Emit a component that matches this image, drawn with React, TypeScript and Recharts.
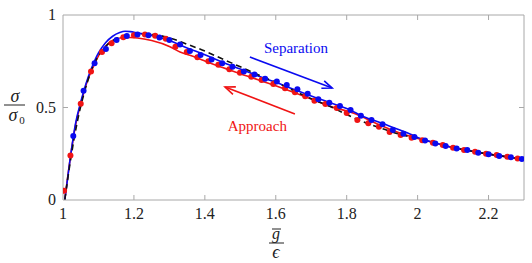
import React from "react";
import {
  LineChart,
  Line,
  XAxis,
  YAxis,
  ReferenceLine,
  ReferenceDot,
} from "recharts";

// normalised traction sigma/sigma0 vs gap g/eps
const separationLine: [number, number][] = [
  [1.005, 0], [1.02, 0.22], [1.035, 0.41], [1.05, 0.53], [1.065, 0.63], [1.08, 0.71],
  [1.1, 0.795], [1.12, 0.85], [1.14, 0.885], [1.16, 0.905], [1.175, 0.912], [1.19, 0.91],
  [1.21, 0.903], [1.25, 0.89], [1.3, 0.862], [1.35, 0.822], [1.4, 0.785], [1.45, 0.745],
  [1.5, 0.708], [1.55, 0.67], [1.6, 0.636], [1.65, 0.598], [1.7, 0.562], [1.75, 0.528],
  [1.8, 0.495], [1.85, 0.449], [1.9, 0.415], [1.95, 0.378], [1.98, 0.355], [2.0, 0.338],
  [2.05, 0.308], [2.1, 0.282], [2.15, 0.265], [2.2, 0.248], [2.25, 0.234], [2.3, 0.22],
];

const approachLine: [number, number][] = [
  [1.005, 0], [1.02, 0.22], [1.035, 0.4], [1.05, 0.52], [1.07, 0.65], [1.09, 0.74],
  [1.105, 0.795], [1.12, 0.83], [1.135, 0.856], [1.15, 0.87], [1.165, 0.877], [1.19, 0.878],
  [1.21, 0.876], [1.25, 0.862], [1.3, 0.83], [1.33, 0.8], [1.36, 0.781], [1.4, 0.752],
  [1.42, 0.737], [1.45, 0.716], [1.5, 0.682], [1.55, 0.65], [1.6, 0.617], [1.65, 0.582],
  [1.7, 0.546], [1.76, 0.502], [1.82, 0.469], [1.84, 0.452], [1.9, 0.4], [1.95, 0.362],
  [2.0, 0.333], [2.05, 0.308], [2.1, 0.283], [2.15, 0.265], [2.2, 0.248], [2.25, 0.234],
  [2.3, 0.22],
];

const modelLine: [number, number][] = [
  [1.005, 0], [1.02, 0.2], [1.04, 0.42], [1.06, 0.58], [1.08, 0.7], [1.1, 0.78],
  [1.12, 0.83], [1.15, 0.872], [1.2, 0.897], [1.25, 0.895], [1.3, 0.876], [1.35, 0.842],
  [1.4, 0.805], [1.45, 0.762], [1.5, 0.72], [1.55, 0.677], [1.6, 0.636], [1.65, 0.592],
  [1.7, 0.547], [1.75, 0.508], [1.8, 0.462], [1.85, 0.42], [1.9, 0.386], [1.95, 0.355],
  [2.0, 0.333], [2.05, 0.307], [2.1, 0.283], [2.15, 0.265], [2.2, 0.248], [2.25, 0.234],
  [2.3, 0.218],
];

const separationDots: [number, number][] = [
  [1.029, 0.346], [1.058, 0.59], [1.089, 0.739], [1.121, 0.816], [1.151, 0.865], [1.18, 0.886],
  [1.21, 0.895], [1.241, 0.89], [1.272, 0.879], [1.3, 0.865], [1.33, 0.84], [1.358, 0.805],
  [1.388, 0.784], [1.419, 0.76], [1.449, 0.739], [1.478, 0.72], [1.51, 0.694], [1.54, 0.679],
  [1.57, 0.656], [1.603, 0.64], [1.631, 0.622], [1.661, 0.598], [1.69, 0.575], [1.72, 0.544],
  [1.751, 0.526], [1.781, 0.508], [1.811, 0.486], [1.84, 0.456], [1.87, 0.432], [1.901, 0.41],
  [1.93, 0.378], [1.96, 0.358], [1.991, 0.34], [2.021, 0.321], [2.05, 0.305], [2.079, 0.292],
  [2.11, 0.278], [2.14, 0.27], [2.171, 0.256], [2.2, 0.247], [2.23, 0.238], [2.263, 0.231],
  [2.294, 0.222],
];

const approachDots: [number, number][] = [
  [1.003, 0.05], [1.021, 0.24], [1.05, 0.52], [1.079, 0.694], [1.11, 0.8], [1.137, 0.847],
  [1.17, 0.88], [1.2, 0.89], [1.231, 0.895], [1.26, 0.888], [1.29, 0.872], [1.317, 0.829],
  [1.349, 0.8], [1.379, 0.772], [1.41, 0.75], [1.438, 0.731], [1.469, 0.707], [1.499, 0.688],
  [1.531, 0.666], [1.56, 0.648], [1.593, 0.627], [1.626, 0.604], [1.654, 0.582], [1.683, 0.561],
  [1.709, 0.536], [1.74, 0.519], [1.772, 0.497], [1.8, 0.47], [1.83, 0.432], [1.861, 0.415],
  [1.891, 0.396], [1.921, 0.368], [1.952, 0.351], [1.983, 0.336], [2.013, 0.323], [2.043, 0.31],
  [2.071, 0.297], [2.1, 0.283], [2.131, 0.27], [2.162, 0.261], [2.193, 0.25], [2.223, 0.243],
  [2.253, 0.234], [2.282, 0.224],
];

const xTicks = [1, 1.2, 1.4, 1.6, 1.8, 2, 2.2];
const yTicks = [0, 0.5, 1];

// arrows [x1, y1, x2, y2] in data units
const separationArrow = [1.527, 0.773, 1.759, 0.605];
const approachArrow = [1.654, 0.465, 1.457, 0.611];

const BLUE = "#0a0af0";
const RED = "#f01414";
const FRAME = "#a8a8a8";
const FONT = '"Times New Roman", "Liberation Serif", "DejaVu Serif", Times, serif';
const serif = { fontFamily: FONT };

const toRows = (pts: [number, number][]) => pts.map(([x, y]) => ({ x, y }));

const BottomTick = (props: any) => {
  const { x, y, payload } = props;
  const v = payload.value as number;
  return (
    <g>
      {v > 1 && <line x1={x} y1={y} x2={x} y2={y - 5} stroke={FRAME} />}
      <text x={x} y={y + 19} textAnchor="middle" fontSize={16} fill="#222" style={serif}>
        {String(Math.round(v * 10) / 10)}
      </text>
    </g>
  );
};

const TopTick = (props: any) => {
  const { x, y, payload } = props;
  if (payload.value <= 1) return <g />;
  return <line x1={x} y1={y} x2={x} y2={y + 5} stroke={FRAME} />;
};

const LeftTick = (props: any) => {
  const { x, y, payload } = props;
  const v = payload.value as number;
  return (
    <g>
      {v > 0 && v < 1 && <line x1={x} y1={y} x2={x + 5} y2={y} stroke={FRAME} />}
      <text x={x - 7} y={y + 5} textAnchor="end" fontSize={16} fill="#222" style={serif}>
        {String(v)}
      </text>
    </g>
  );
};

const RightTick = (props: any) => {
  const { x, y, payload } = props;
  const v = payload.value as number;
  if (v <= 0 || v >= 1) return <g />;
  return <line x1={x} y1={y} x2={x - 5} y2={y} stroke={FRAME} />;
};

const arrowShape = (color: string) => (props: any) => {
  const { x1, y1, x2, y2 } = props;
  if (x1 == null) return <g />;
  const ang = Math.atan2(y2 - y1, x2 - x1);
  const len = 10;
  const w = 4;
  const bx = x2 - len * Math.cos(ang);
  const by = y2 - len * Math.sin(ang);
  const px = -Math.sin(ang) * w;
  const py = Math.cos(ang) * w;
  return (
    <g>
      <line x1={x1} y1={y1} x2={x2} y2={y2} stroke={color} strokeWidth={1.6} />
      <path d={`M${bx + px},${by + py} L${x2},${y2} L${bx - px},${by - py}`} fill="none" stroke={color} strokeWidth={1.6} />
    </g>
  );
};

const textShape = (label: string, color: string) => (props: any) => (
  <text x={props.cx} y={props.cy + 5} textAnchor="middle" fontSize={15} fill={color} style={serif}>
    {label}
  </text>
);

export default function App() {
  return (
    <div style={{ position: "absolute", left: 0, top: 0, background: "#fff" }}>
      <LineChart width={532} height={263} margin={{ top: 14, right: 7, bottom: 0, left: 0 }}>
        <XAxis
          xAxisId={0}
          type="number"
          dataKey="x"
          domain={[1, 2.3]}
          ticks={xTicks}
          allowDataOverflow
          height={63}
          stroke={FRAME}
          tickSize={0}
          tickMargin={0}
          tick={<BottomTick />}
        />
        <XAxis
          xAxisId="top"
          orientation="top"
          type="number"
          dataKey="x"
          domain={[1, 2.3]}
          ticks={xTicks}
          allowDataOverflow
          height={1}
          stroke={FRAME}
          tickSize={0}
          tickMargin={0}
          tick={<TopTick />}
        />
        <YAxis
          yAxisId={0}
          type="number"
          domain={[0, 1]}
          ticks={yTicks}
          allowDataOverflow
          width={63}
          stroke={FRAME}
          tickSize={0}
          tickMargin={0}
          tick={<LeftTick />}
        />
        <YAxis
          yAxisId="right"
          orientation="right"
          type="number"
          domain={[0, 1]}
          ticks={yTicks}
          allowDataOverflow
          width={1}
          stroke={FRAME}
          tickSize={0}
          tickMargin={0}
          tick={<RightTick />}
        />

        {/* invisible copy bound to the mirrored axes so the box gets drawn */}
        <Line xAxisId="top" yAxisId="right" data={toRows(modelLine)} dataKey="y" stroke="none" dot={false} activeDot={false} isAnimationActive={false} />

        <Line data={toRows(approachLine)} dataKey="y" type="monotone" stroke={RED} strokeWidth={1.6} dot={false} activeDot={false} isAnimationActive={false} />
        <Line data={toRows(separationLine)} dataKey="y" type="monotone" stroke={BLUE} strokeWidth={1.6} dot={false} activeDot={false} isAnimationActive={false} />
        <Line data={toRows(modelLine)} dataKey="y" type="monotone" stroke="#111" strokeWidth={1.6} strokeDasharray="6 4" dot={false} activeDot={false} isAnimationActive={false} />
        <Line data={toRows(approachDots)} dataKey="y" stroke="none" dot={{ r: 3, fill: RED, stroke: "none" }} activeDot={false} isAnimationActive={false} />
        <Line data={toRows(separationDots)} dataKey="y" stroke="none" dot={{ r: 3, fill: BLUE, stroke: "none" }} activeDot={false} isAnimationActive={false} />

        <ReferenceLine
          segment={[{ x: separationArrow[0], y: separationArrow[1] }, { x: separationArrow[2], y: separationArrow[3] }]}
          shape={arrowShape(BLUE)}
        />
        <ReferenceLine
          segment={[{ x: approachArrow[0], y: approachArrow[1] }, { x: approachArrow[2], y: approachArrow[3] }]}
          shape={arrowShape(RED)}
        />
        <ReferenceDot x={1.657} y={0.822} r={0} shape={textShape("Separation", BLUE)} />
        <ReferenceDot x={1.548} y={0.4} r={0} shape={textShape("Approach", RED)} />
      </LineChart>

      {/* axis labels drawn as fractions, like the LaTeX originals */}
      <svg width={532} height={263} style={{ position: "absolute", left: 0, top: 0, pointerEvents: "none" }}>
        <g style={serif} fill="#222">
          <text x={15} y={102} textAnchor="middle" fontSize={18} fontStyle="italic">σ</text>
          <line x1={4} y1={105} x2={25} y2={105} stroke="#222" strokeWidth={1} />
          <text x={13} y={121} textAnchor="middle" fontSize={18} fontStyle="italic">σ</text>
          <text x={22} y={124} textAnchor="middle" fontSize={11}>0</text>
          <text x={276} y={239} textAnchor="middle" fontSize={16} fontStyle="italic">g</text>
          <line x1={272} y1={229} x2={281} y2={229} stroke="#222" strokeWidth={1} />
          <line x1={269} y1={243} x2={284} y2={243} stroke="#222" strokeWidth={1} />
          <text x={276} y={258} textAnchor="middle" fontSize={18} fontStyle="italic">ϵ</text>
        </g>
      </svg>
    </div>
  );
}
